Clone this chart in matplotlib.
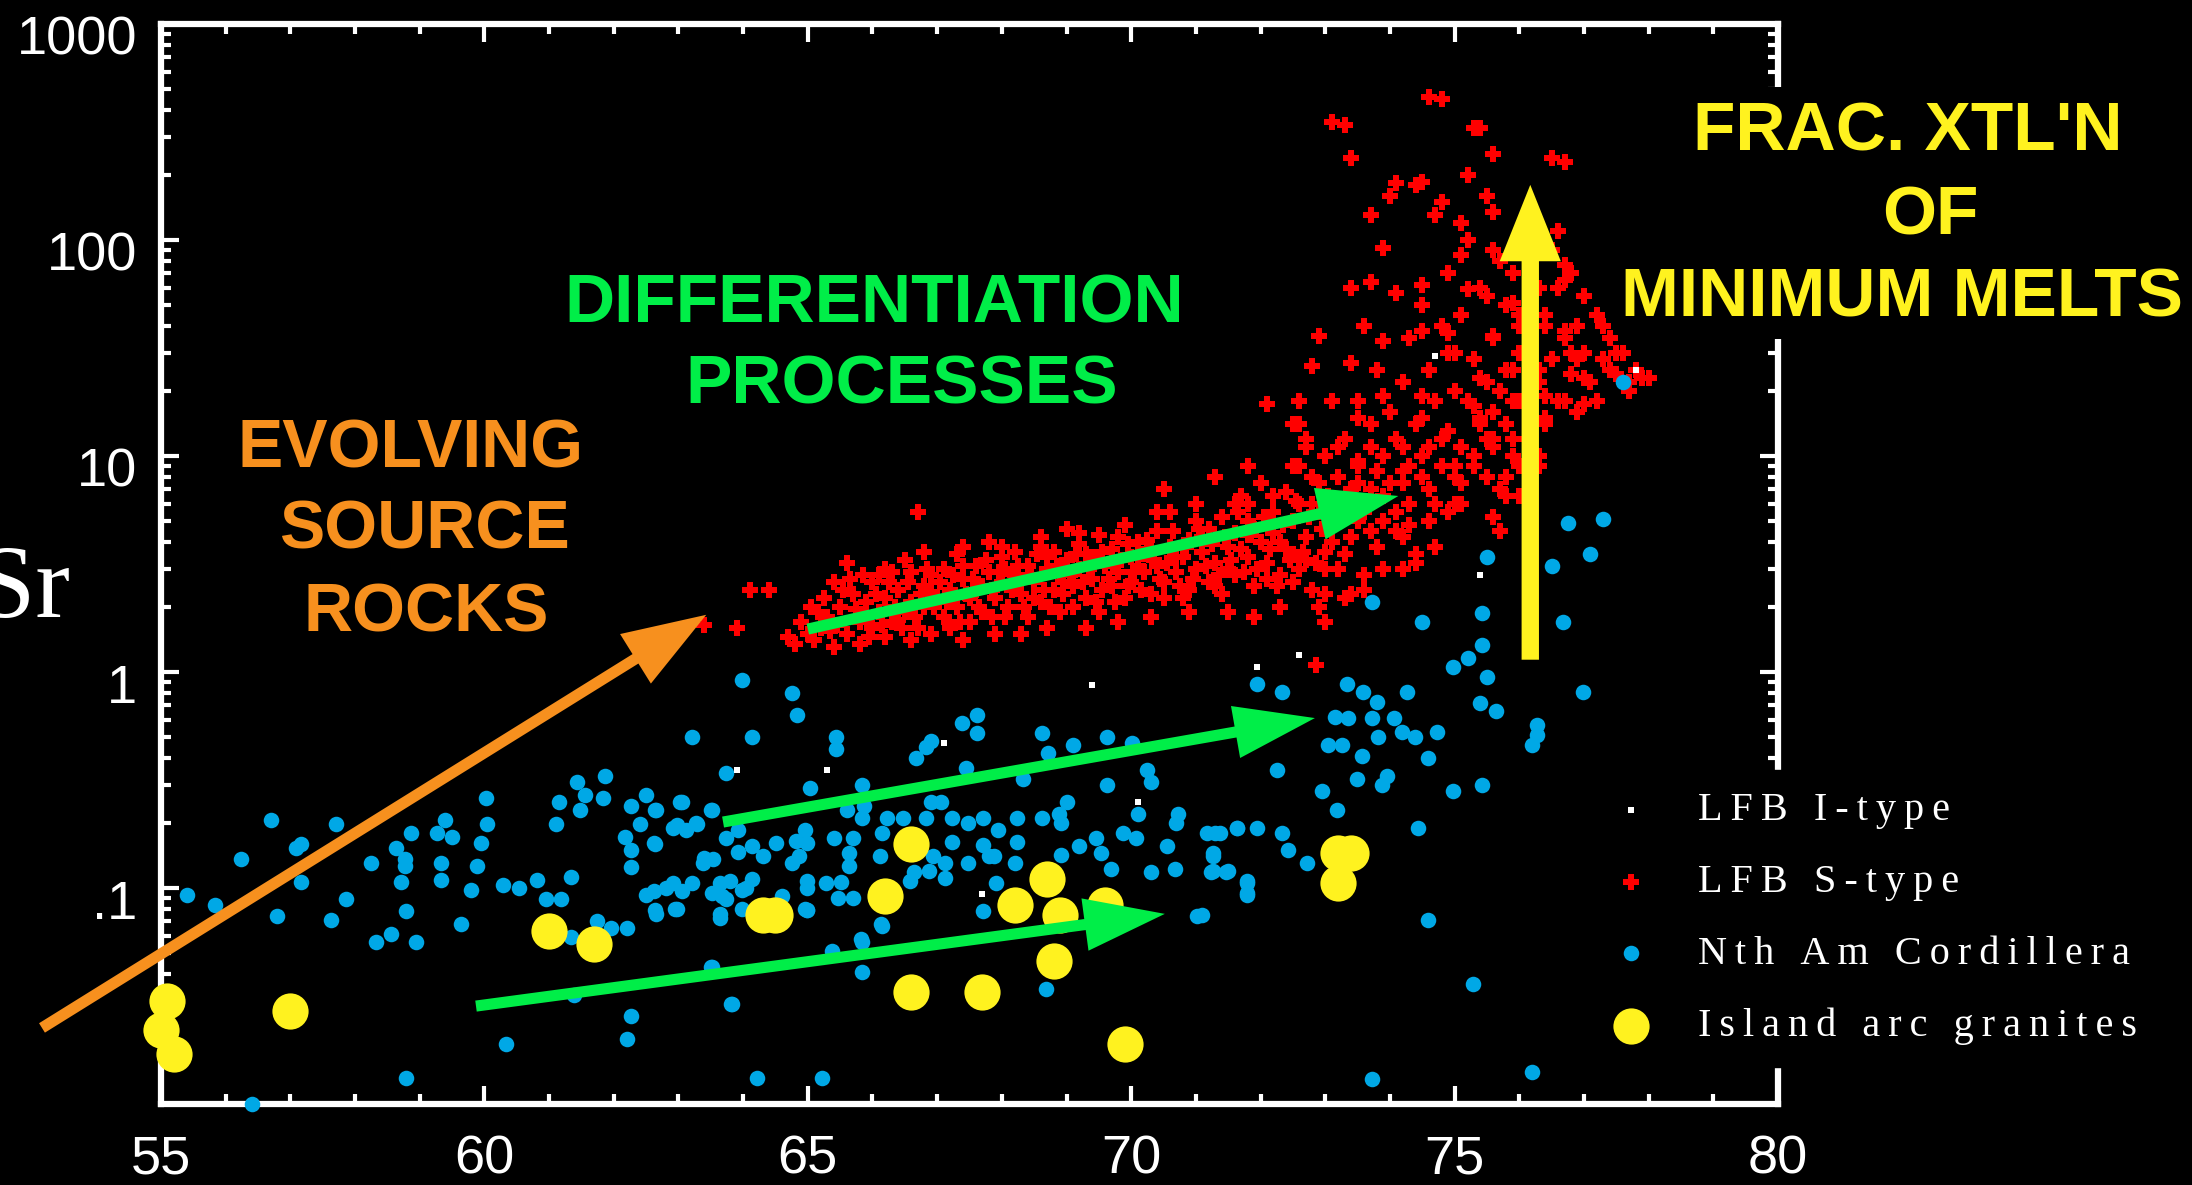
import matplotlib
matplotlib.use("Agg")
import matplotlib.pyplot as plt
from matplotlib.patches import FancyArrowPatch, ArrowStyle, Rectangle
from matplotlib.ticker import FixedLocator, LogLocator, NullFormatter, FixedFormatter
from matplotlib.font_manager import FontProperties
import matplotlib.transforms as mtransforms

plt.rcParams['font.family'] = ['Liberation Sans', 'DejaVu Sans']

# ---------------- data (SiO2 wt%, Rb/Sr) ----------------
itype_pts = [(67.1, 0.47), (69.4, 0.87), (63.9, 0.35), (65.3, 0.35), (67.7, 0.094),
             (70.1, 0.25), (75.4, 2.8), (72.6, 1.2), (71.95, 1.05), (74.7, 29), (77.8, 25)]

stype_pts = [
    (63.4, 1.65), (63.9, 1.6), (64.1, 2.4), (64.4, 2.4), (64.7, 1.45), (64.8, 1.35), (65.0, 1.5), (64.9, 1.7), (65.1, 1.4), (65.2, 1.6),
    (65.3, 1.8), (65.4, 2.6), (65.5, 2.0), (65.6, 3.2), (65.6, 1.5), (65.7, 2.3), (65.8, 1.7), (65.9, 2.1), (66.0, 2.6), (66.0, 1.6), (66.1, 1.9), (65.4, 1.3), (65.8, 1.35),
    (66.2, 2.2), (66.3, 2.9), (66.3, 1.7), (66.4, 2.4), (66.5, 1.9), (66.5, 3.3), (66.6, 2.1), (66.7, 5.5), (66.7, 1.6), (66.8, 2.5), (66.8, 2.0), (66.9, 2.8), (66.9, 1.5), (67.0, 2.2), (66.6, 1.4), (66.2, 1.45),
    (67.1, 3.0), (67.1, 1.8), (67.2, 2.4), (67.3, 2.0), (67.3, 3.5), (67.4, 2.7), (67.5, 1.7), (67.5, 2.2), (67.6, 3.1), (67.7, 2.5), (67.7, 1.9), (67.8, 2.9), (67.9, 2.2), (67.9, 1.5), (68.0, 3.4), (68.0, 2.6), (67.4, 1.4), (67.8, 4.0),
    (68.1, 2.0), (68.2, 2.8), (68.2, 3.6), (68.3, 2.3), (68.4, 1.8), (68.4, 3.1), (68.5, 2.6), (68.6, 4.2), (68.6, 2.1), (68.7, 3.0), (68.8, 2.4), (68.8, 3.6), (68.9, 1.9), (68.9, 2.8), (69.0, 3.3), (68.3, 1.5), (68.7, 1.6), (69.0, 4.6),
    (69.1, 2.5), (69.2, 3.0), (69.2, 3.9), (69.3, 2.2), (69.4, 3.4), (69.4, 2.7), (69.5, 4.3), (69.5, 1.9), (69.6, 3.1), (69.7, 2.5), (69.7, 3.7), (69.8, 2.9), (69.9, 4.8), (69.9, 2.2), (70.0, 3.4), (70.0, 2.6), (69.3, 1.6), (69.8, 1.7),
    (70.1, 4.0), (70.2, 2.9), (70.2, 3.5), (70.3, 2.3), (70.4, 4.5), (70.4, 3.1), (70.5, 2.6), (70.6, 3.8), (70.6, 5.5), (70.7, 2.9), (70.8, 3.4), (70.8, 2.2), (70.9, 4.1), (71.0, 3.0), (71.0, 6.0), (70.3, 1.8), (70.9, 1.9), (70.5, 7.0),
    (71.1, 3.6), (71.2, 4.6), (71.2, 2.6), (71.3, 3.2), (71.4, 5.2), (71.4, 2.3), (71.5, 3.8), (71.6, 4.4), (71.6, 2.8), (71.7, 6.5), (71.8, 3.4), (71.8, 5.0), (71.9, 2.5), (72.0, 4.0), (72.0, 7.5), (71.3, 8.0), (71.5, 1.9), (71.9, 1.8),
    (72.1, 3.2), (72.2, 5.5), (72.2, 4.4), (72.3, 2.8), (72.4, 6.8), (72.4, 3.7), (72.5, 9.0), (72.5, 5.0), (72.6, 3.0), (72.7, 4.2), (72.7, 12), (72.8, 6.0), (72.8, 2.4), (72.9, 7.5), (73.0, 3.6), (73.0, 10), (72.6, 14), (72.9, 2.0), (72.3, 2.0), (72.86, 1.08),
    (65.15, 1.9), (65.25, 2.2), (65.45, 1.65), (65.55, 2.4), (65.75, 1.95), (65.85, 2.8), (65.95, 1.45), (66.05, 2.3), (66.15, 1.65), (66.25, 2.6), (66.35, 2.0), (66.45, 1.6), (66.55, 2.6), (66.65, 1.8), (66.75, 2.3), (66.85, 3.0), (66.95, 2.0),
    (67.05, 2.6), (67.15, 2.1), (67.25, 2.8), (67.35, 1.7), (67.45, 2.3), (67.55, 2.7), (67.65, 2.0), (67.75, 3.3), (67.85, 2.4), (67.95, 2.9), (68.05, 1.8), (68.15, 2.4), (68.25, 3.1), (68.35, 2.0), (68.45, 2.8), (68.55, 3.5), (68.65, 2.4),
    (68.75, 2.0), (68.85, 3.1), (68.95, 2.3), (69.05, 2.8), (69.15, 3.5), (69.25, 2.6), (69.35, 3.0), (69.45, 2.1), (69.55, 3.6), (69.65, 2.7), (69.75, 2.1), (69.85, 3.3), (69.95, 3.9), (70.05, 2.9), (70.15, 2.4), (70.25, 4.1), (70.35, 3.3),
    (70.45, 2.7), (70.55, 3.2), (70.65, 4.5), (70.75, 2.5), (70.85, 3.8), (70.95, 2.7), (71.05, 4.6), (71.15, 3.1), (71.25, 3.9), (71.35, 2.8), (71.45, 4.2), (71.55, 3.3), (71.65, 5.5), (71.75, 2.9), (71.85, 4.3), (71.95, 3.0), (72.05, 5.2),
    (72.15, 3.7), (72.25, 2.5), (72.35, 4.8), (72.45, 3.3), (72.55, 6.2), (72.65, 3.6), (72.75, 5.2), (72.85, 3.2), (72.95, 4.6), (73.05, 6.5),
    (65.05, 2.0), (65.35, 1.55), (65.65, 2.7), (65.9, 1.8), (66.1, 2.8), (66.4, 1.75), (66.6, 2.9), (66.9, 2.35), (67.2, 1.6), (67.4, 3.1), (67.6, 2.4), (67.85, 1.8), (68.05, 3.0), (68.3, 2.6), (68.5, 2.2), (68.7, 3.4), (68.95, 2.6),
    (69.1, 2.0), (69.3, 3.5), (69.55, 2.4), (69.75, 3.2), (69.95, 2.5), (70.1, 3.1), (70.3, 3.7), (70.5, 2.2), (70.7, 3.4), (70.9, 2.4), (71.1, 4.2), (71.3, 2.5), (71.5, 3.0), (71.7, 3.7), (71.9, 4.6), (72.1, 2.7), (72.3, 4.0), (72.5, 2.6),
    (72.7, 3.3), (72.9, 5.5), (73.1, 4.0), (73.3, 3.5), (73.5, 5.0), (73.7, 4.5), (73.9, 6.5), (74.1, 5.5), (74.3, 4.8), (74.5, 8.0), (74.7, 6.0), (74.9, 5.5), (75.1, 7.5), (75.3, 10), (75.5, 12), (75.7, 7), (76.0, 9), (75.6, 16), (74.8, 12),
    (74.2, 11), (73.8, 8.5), (73.4, 7), (72.8, 8), (72.2, 6.5), (71.6, 6.0), (71.0, 5.0), (70.4, 5.5), (69.8, 4.2), (69.2, 4.4), (68.6, 3.8), (68.0, 3.8), (67.4, 3.8), (66.8, 3.6), (66.2, 3.0),
    (73.1, 5.0), (73.2, 8.0), (73.2, 3.0), (73.3, 12), (73.3, 6.2), (73.4, 4.2), (73.5, 9.5), (73.5, 18), (73.6, 5.5), (73.6, 2.8), (73.7, 7.0), (73.7, 14), (73.8, 3.8), (73.8, 25), (73.9, 10), (73.9, 5.0), (74.0, 16), (74.0, 7.5),
    (73.1, 350), (73.4, 60), (73.6, 40), (73.3, 2.2), (73.0, 1.7), (73.9, 3.0),
    (74.1, 12), (74.1, 4.5), (74.2, 22), (74.2, 8.5), (74.3, 35), (74.3, 6.0), (74.4, 14), (74.4, 180), (74.5, 10), (74.5, 50), (74.6, 7.0), (74.6, 25), (74.7, 18), (74.7, 130), (74.8, 9.0), (74.8, 40), (74.9, 13), (74.9, 70),
    (75.0, 8.0), (75.0, 30), (74.4, 3.5), (74.0, 160), (74.8, 450), (74.2, 3.0), (74.6, 5.0), (75.0, 20),
    (75.1, 11), (75.1, 45), (75.2, 18), (75.2, 100), (75.3, 9), (75.3, 28), (75.4, 15), (75.4, 60), (75.5, 22), (75.5, 8), (75.6, 35), (75.6, 12), (75.7, 80), (75.7, 20), (75.8, 14), (75.8, 50), (75.9, 25), (75.9, 10), (76.0, 40), (76.0, 18),
    (75.3, 330), (75.5, 160), (75.1, 6), (75.8, 6.5), (75.6, 250), (75.2, 200),
    (76.1, 30), (76.1, 12), (76.2, 60), (76.3, 22), (76.4, 45), (76.4, 15), (76.5, 90), (76.5, 28), (76.6, 18), (76.6, 60), (76.7, 35), (76.8, 24), (76.8, 70), (76.9, 40), (77.0, 30), (77.0, 55), (76.7, 230), (76.3, 9), (76.2, 120), (76.9, 16),
    (77.1, 22), (77.2, 45), (77.3, 28), (77.4, 35), (77.5, 24), (77.6, 30), (77.8, 25), (77.7, 20), (77.2, 18), (78.0, 23),
    (74.6, 460), (73.3, 340), (75.4, 330), (76.5, 240), (73.4, 240), (74.1, 183), (74.5, 186), (74.8, 150), (73.7, 130), (75.1, 120), (75.6, 135), (73.9, 92), (75.6, 90), (75.1, 85), (76.7, 77), (73.7, 64), (74.1, 57), (74.5, 62),
    (76.7, 65), (75.2, 59), (75.5, 55), (75.9, 51), (72.9, 36), (73.9, 34), (74.5, 38), (74.9, 37), (75.6, 36), (76.7, 38), (77.3, 40), (72.8, 26), (73.4, 27), (74.9, 30), (76.8, 30), (75.4, 23), (77.0, 23), (77.9, 23), (76.4, 19),
    (76.7, 18), (77.0, 17.5), (72.1, 17.5), (72.6, 18), (73.1, 18), (73.9, 19), (74.5, 19), (75.3, 17), (72.5, 14), (73.5, 15), (74.5, 15), (75.4, 14), (72.7, 11), (73.2, 11), (73.7, 11), (74.6, 11), (75.6, 11), (71.8, 9), (72.6, 9),
    (73.5, 9), (74.3, 9), (75.0, 9), (73.5, 7.5), (74.2, 7.5), (74.3, 6), (75.0, 6), (71.8, 6), (72.6, 6), (75.6, 5.2), (71.8, 4.3), (72.5, 3.5), (73.0, 3.0), (73.6, 2.4), (74.2, 4.2), (74.7, 3.8), (74.4, 3.2), (73.0, 2.3), (73.4, 2.3),
    (75.9, 70), (76.0, 45), (76.3, 60), (76.4, 40), (76.5, 28), (76.3, 25), (76.0, 30), (75.8, 25), (75.9, 18), (76.4, 14), (75.9, 12), (75.8, 8), (76.3, 10), (76.0, 6.5), (75.7, 4.5), (76.4, 90), (76.6, 110), (77.0, 55), (77.2, 45),
    (77.5, 30), (77.4, 25), (77.7, 22), (76.9, 28),
]

cordillera_pts = [
    (61.43, 0.31), (61.87, 0.33), (61.56, 0.27), (61.83, 0.26), (61.16, 0.25), (61.48, 0.23), (62.5, 0.27), (62.27, 0.24), (62.63, 0.23), (63.05, 0.25), (63.52, 0.23), (61.1, 0.198), (62.41, 0.198), (62.98, 0.195), (63.29, 0.198),
    (62.18, 0.172), (62.63, 0.159), (62.27, 0.15), (62.27, 0.125), (63.38, 0.13), (60.03, 0.26), (60.04, 0.198), (59.95, 0.162), (59.39, 0.206), (59.26, 0.18), (59.5, 0.172), (58.86, 0.18), (58.63, 0.153), (58.77, 0.136), (58.77, 0.127),
    (58.71, 0.107), (59.33, 0.13), (59.33, 0.109), (59.88, 0.126), (59.79, 0.0975), (58.25, 0.13), (57.7, 0.198), (57.08, 0.153), (57.17, 0.16), (57.17, 0.107), (56.7, 0.206), (56.24, 0.136), (55.4, 0.093), (55.84, 0.083), (56.79, 0.074),
    (57.63, 0.071), (57.86, 0.089), (58.79, 0.078), (59.64, 0.068), (58.56, 0.061), (58.32, 0.056), (58.95, 0.056), (60.28, 0.103), (60.54, 0.1), (60.81, 0.109), (61.34, 0.113), (60.96, 0.089), (61.19, 0.089), (61.74, 0.07), (61.96, 0.065),
    (62.2, 0.065), (61.34, 0.059), (62.5, 0.093), (62.81, 0.1), (62.63, 0.079), (62.98, 0.08), (63.52, 0.095), (63.74, 0.089), (63.65, 0.073), (64.05, 0.1), (64.98, 0.1), (64.98, 0.079), (63.52, 0.043), (63.83, 0.029), (62.27, 0.0255),
    (62.2, 0.020), (61.39, 0.032), (60.34, 0.019), (58.79, 0.0132), (64.22, 0.0132), (56.4, 0.010), (66.13, 0.068), (65.82, 0.058),
    (63.98, 0.92), (64.75, 0.80), (64.83, 0.63), (63.21, 0.50), (64.13, 0.50), (65.44, 0.50), (65.44, 0.44), (63.74, 0.34), (65.04, 0.29), (65.84, 0.30), (66.91, 0.48), (66.82, 0.45), (66.68, 0.40), (67.38, 0.58), (67.62, 0.63),
    (67.62, 0.52), (68.62, 0.52), (69.63, 0.50), (69.1, 0.46), (68.71, 0.42), (70.02, 0.47), (70.25, 0.35), (70.31, 0.31), (69.63, 0.30), (68.33, 0.32), (67.44, 0.36), (69.01, 0.25), (70.1, 0.22), (70.72, 0.22), (70.7, 0.20),
    (71.64, 0.19), (71.17, 0.18), (71.38, 0.18), (71.26, 0.145), (71.23, 0.119), (71.47, 0.119), (71.79, 0.105), (71.79, 0.093), (71.02, 0.074), (70.67, 0.123), (70.31, 0.119), (70.55, 0.156), (70.07, 0.17), (69.87, 0.18), (69.69, 0.123),
    (69.54, 0.145), (69.45, 0.17), (69.19, 0.156), (68.92, 0.142), (68.92, 0.20), (68.89, 0.22), (68.62, 0.21), (68.24, 0.21), (68.24, 0.164), (68.21, 0.13), (67.94, 0.186), (67.88, 0.14), (67.91, 0.105), (67.71, 0.21), (67.47, 0.20),
    (67.23, 0.21), (67.23, 0.164), (67.71, 0.158), (67.8, 0.14), (67.47, 0.13), (67.71, 0.078), (67.06, 0.25), (66.91, 0.25), (66.82, 0.21), (66.47, 0.21), (66.23, 0.21), (66.14, 0.18), (66.11, 0.14), (66.94, 0.14), (67.12, 0.13),
    (67.12, 0.111), (66.64, 0.119), (66.88, 0.12), (66.58, 0.108), (65.87, 0.24), (65.61, 0.23), (65.84, 0.21), (65.7, 0.17), (65.4, 0.17), (65.64, 0.145), (65.64, 0.126), (65.52, 0.107), (65.28, 0.105), (65.46, 0.09), (65.7, 0.09),
    (64.99, 0.108), (64.99, 0.079), (64.96, 0.186), (64.99, 0.161), (64.81, 0.165), (64.87, 0.14), (64.75, 0.13), (64.51, 0.161), (64.3, 0.14), (64.13, 0.156), (63.92, 0.146), (63.74, 0.17), (63.54, 0.136), (63.39, 0.138), (63.27, 0.20),
    (63.03, 0.25), (63.5, 0.23), (63.12, 0.186), (62.91, 0.19), (62.65, 0.23), (62.62, 0.161), (63.92, 0.186), (63.8, 0.108), (63.65, 0.105), (63.68, 0.092), (63.65, 0.076), (63.98, 0.08), (64.13, 0.11), (63.98, 0.098), (63.21, 0.105),
    (62.91, 0.105), (63.06, 0.097), (62.62, 0.097), (62.94, 0.08), (62.65, 0.076), (64.6, 0.092), (64.96, 0.08), (66.14, 0.067), (65.84, 0.056), (65.37, 0.051), (65.84, 0.041), (63.51, 0.043), (68.68, 0.034), (63.81, 0.029), (65.22, 0.0132),
    (73.72, 2.11), (74.5, 1.7), (75.42, 1.87), (76.68, 1.7), (76.5, 3.1), (75.42, 1.33), (75.2, 1.16), (74.97, 1.05), (75.5, 0.95), (71.95, 0.88), (72.33, 0.81), (73.34, 0.88), (73.58, 0.81), (73.8, 0.73), (74.26, 0.81), (76.98, 0.81),
    (75.4, 0.72), (75.64, 0.66), (73.15, 0.62), (73.35, 0.61), (73.72, 0.61), (74.06, 0.61), (74.19, 0.53), (74.39, 0.50), (73.82, 0.50), (74.73, 0.53), (76.27, 0.57), (76.27, 0.51), (76.2, 0.46), (73.04, 0.46), (73.26, 0.46),
    (73.57, 0.41), (74.59, 0.40), (72.25, 0.35), (73.49, 0.32), (73.95, 0.33), (73.88, 0.30), (75.42, 0.30), (74.97, 0.28), (72.95, 0.28), (73.18, 0.23), (74.43, 0.19), (71.3, 0.18), (71.64, 0.19), (71.95, 0.19), (72.33, 0.18),
    (72.42, 0.15), (72.72, 0.13), (71.26, 0.14), (71.26, 0.12), (71.5, 0.12), (71.79, 0.108), (71.79, 0.095), (71.1, 0.075), (74.59, 0.071), (75.28, 0.036), (76.2, 0.014), (73.72, 0.013),
    (75.5, 3.4), (76.75, 4.9), (77.3, 5.1), (77.1, 3.5), (77.6, 22),
]

island_arc_pts = [(55.1, 0.030), (55.0, 0.022), (55.2, 0.017), (57.0, 0.027), (61.0, 0.063), (61.7, 0.055), (64.3, 0.075), (64.5, 0.075),
                  (66.6, 0.16), (66.2, 0.092), (66.6, 0.033), (67.7, 0.033), (68.2, 0.083), (68.7, 0.11), (68.9, 0.075), (69.6, 0.083),
                  (68.8, 0.046), (69.9, 0.019), (73.2, 0.145), (73.4, 0.145), (73.2, 0.105)]

series_labels = ["LFB I-type", "LFB S-type", "Nth Am Cordillera", "Island arc granites"]
x_ticks = [55, 60, 65, 70, 75, 80]
y_ticks = [0.1, 1, 10, 100, 1000]
y_tick_labels = [".1", "1", "10", "100", "1000"]

# annotation arrows (data coordinates: start -> tip)
orange_arrow = ((53.16, 0.0225), (63.43, 1.84))
green_arrows = [((65.0, 1.58), (74.13, 6.53)),
                ((63.69, 0.202), (72.84, 0.612)),
                ((59.87, 0.0284), (70.52, 0.0759))]
yellow_arrow = ((76.17, 1.14), (76.17, 180))

# ---------------- figure ----------------
W, H = 2192, 1185
fig = plt.figure(figsize=(W / 100, H / 100), dpi=100, facecolor='black')
ax = fig.add_axes([161 / W, 81 / H, (1778 - 161) / W, (1104 - 24) / H])
ax.set_facecolor('black')
ax.set_yscale('log')
ax.set_xlim(55, 80)
ax.set_ylim(0.01, 1000)

def xs(p): return [a for a, b in p]
def ys(p): return [b for a, b in p]

BLUE = '#00A8E6'
RED = '#FF0000'
YEL = '#FFF21F'
GREEN = '#00EE48'
ORANGE = '#F7901E'

sc_w = ax.scatter(xs(itype_pts), ys(itype_pts), s=16, marker='s', c='white', linewidths=0, zorder=3.2, clip_on=False)
sc_r = ax.scatter(xs(stype_pts), ys(stype_pts), s=125, marker='P', c=RED, linewidths=0, zorder=3.0, clip_on=False)
sc_b = ax.scatter(xs(cordillera_pts), ys(cordillera_pts), s=125, marker='o', c=BLUE, linewidths=0, zorder=3.1, clip_on=False)
sc_y = ax.scatter(xs(island_arc_pts), ys(island_arc_pts), s=680, marker='o', c=YEL, linewidths=0, zorder=3.3, clip_on=False)

# spines & ticks
for sp in ax.spines.values():
    sp.set_color('white')
    sp.set_linewidth(4.5)
ax.xaxis.set_major_locator(FixedLocator(x_ticks))
ax.xaxis.set_minor_locator(FixedLocator(list(range(55, 81))))
ax.set_xticklabels([str(t) for t in x_ticks])
ax.yaxis.set_major_locator(FixedLocator(y_ticks))
ax.yaxis.set_major_formatter(FixedFormatter(y_tick_labels))
ax.yaxis.set_minor_locator(LogLocator(base=10, subs=range(2, 10), numticks=30))
ax.yaxis.set_minor_formatter(NullFormatter())
ax.tick_params(axis='both', which='both', direction='in', top=True, right=True,
               colors='white', width=3)
ax.tick_params(which='major', length=13, labelsize=39)
ax.tick_params(which='minor', length=7)
ax.tick_params(axis='x', which='major', pad=22)
ax.tick_params(axis='y', which='major', pad=17)
off = mtransforms.ScaledTranslation(0, -8 / 72, fig.dpi_scale_trans)
for lab in ax.get_yticklabels():
    lab.set_transform(lab.get_transform() + off)

# arrows
def arrow(p0, p1, color, tail, hl, hw):
    a = FancyArrowPatch(p0, p1, transform=ax.transData,
                        arrowstyle=ArrowStyle.Simple(head_length=hl, head_width=hw, tail_width=tail),
                        mutation_scale=1, color=color, lw=0, shrinkA=0, shrinkB=0,
                        clip_on=False, zorder=5)
    ax.add_patch(a)

arrow(orange_arrow[0], orange_arrow[1], ORANGE, 8, 60, 42)
for p0, p1 in green_arrows:
    arrow(p0, p1, GREEN, 8, 58, 38)
arrow(yellow_arrow[0], yellow_arrow[1], YEL, 12.5, 55, 44)

# text annotations (figure pixel placement, baseline = centre + cap/2)
def ftext(px, py, s, color, size=50):
    cap = size * 100 / 72 * 0.716
    fig.text(px / W, 1 - (py + cap / 2) / H, s, color=color, fontsize=size,
             fontweight='bold', ha='center', va='baseline', zorder=6)

ftext(411, 443, "EVOLVING", ORANGE, 49)
ftext(424, 524, "SOURCE", ORANGE, 49)
ftext(426, 607, "ROCKS", ORANGE, 49)
ftext(874, 298, "DIFFERENTIATION", GREEN, 50)
ftext(902, 379, "PROCESSES", GREEN, 50)

# black box behind the FRAC text (interrupts right spine as in original)
fig.patches.append(Rectangle((1740 / W, 1 - 339 / H), (W - 1740) / W, (339 - 87) / H,
                             transform=fig.transFigure, facecolor='black', edgecolor='none', zorder=1))
ftext(1908, 126, "FRAC. XTL'N", YEL, 50)
ftext(1930, 210, "OF", YEL, 50)
ftext(1902, 292, "MINIMUM MELTS", YEL, 50)

# y-axis label (partly off the left edge, as in the original)
fig.text(70 / W, 1 - 617 / H, "Rb/Sr", color='white', fontsize=75,
         family=['Liberation Serif', 'DejaVu Serif'], ha='right', va='baseline')

# legend
def spaced(s):
    return '\u2009'.join(s)

leg = fig.legend([sc_w, sc_r, sc_b, sc_y], [spaced(l) for l in series_labels],
                 loc='upper left', bbox_to_anchor=(1590 / W, 1 - 770 / H),
                 bbox_transform=fig.transFigure, frameon=True, facecolor='black',
                 edgecolor='black', framealpha=1, fancybox=False,
                 prop=FontProperties(family=['Liberation Serif', 'DejaVu Sans'], size=29),
                 labelcolor='white', borderpad=0.55, handlelength=0.92, handletextpad=1.2,
                 labelspacing=0.86, borderaxespad=0, scatterpoints=1)

fig.savefig('out.png', dpi=100, facecolor='black')
